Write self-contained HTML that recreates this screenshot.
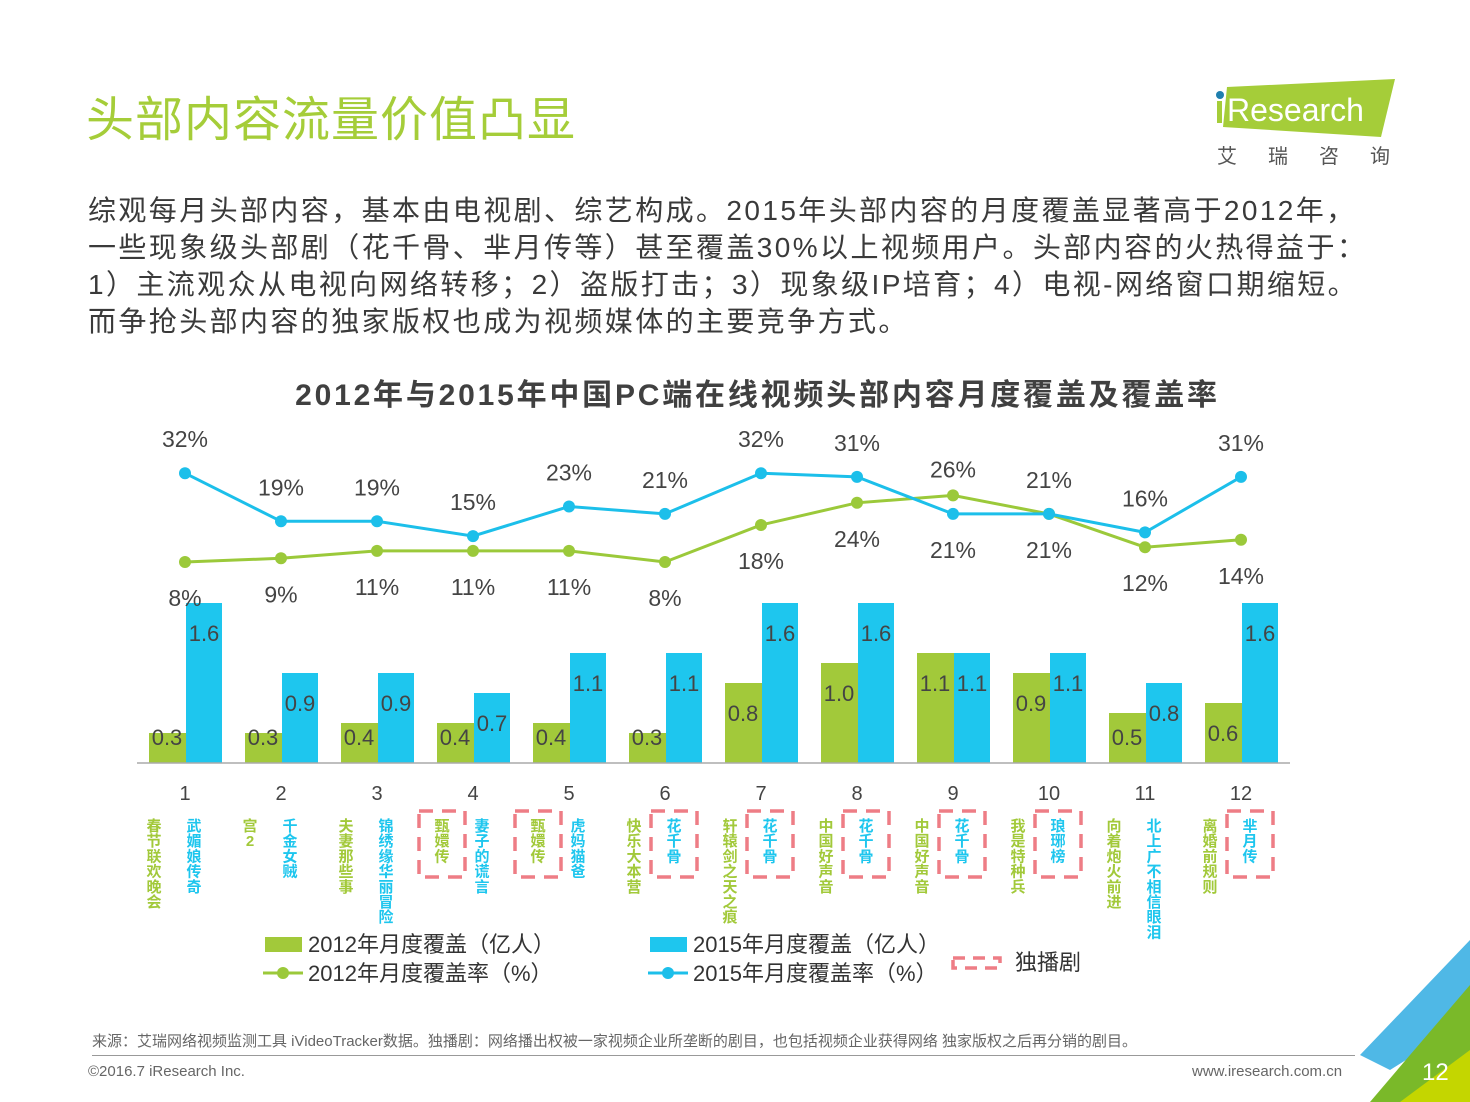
<!DOCTYPE html>
<html><head><meta charset="utf-8">
<style>
body{margin:0;width:1470px;height:1102px;background:#fff;overflow:hidden;position:relative;font-family:"Liberation Sans","Noto Sans CJK SC",sans-serif;}
.abs{position:absolute;}
#title{left:86px;top:80px;font-size:48px;color:#a5cd39;letter-spacing:1px;}
#para{left:88px;top:192px;font-size:28px;color:#3a3a3a;line-height:37px;letter-spacing:2.4px;white-space:nowrap;}
#ctitle{left:0;width:1515px;top:370px;text-align:center;font-size:30px;font-weight:bold;color:#404040;letter-spacing:2.8px;}
.foot{font-size:15px;color:#666;}
</style></head><body>
<div class="abs" id="title">头部内容流量价值凸显</div>
<div class="abs" id="para">综观每月头部内容，基本由电视剧、综艺构成。2015年头部内容的月度覆盖显著高于2012年，<br>一些现象级头部剧（花千骨、芈月传等）甚至覆盖30%以上视频用户。头部内容的火热得益于：<br>1）主流观众从电视向网络转移；2）盗版打击；3）现象级IP培育；4）电视-网络窗口期缩短。<br>而争抢头部内容的独家版权也成为视频媒体的主要竞争方式。</div>
<div class="abs" id="ctitle">2012年与2015年中国PC端在线视频头部内容月度覆盖及覆盖率</div>

<svg class="abs" style="left:1205px;top:75px" width="200" height="100">
<polygon points="22,12 190,4 176,62 18,52" fill="#a5cd39"/>
<rect x="12" y="26" width="5" height="22" fill="#a5cd39"/>
<circle cx="15" cy="20" r="4" fill="#1f7fae"/>
<text x="22" y="46" font-size="32" fill="#fff" font-family="Liberation Sans">Research</text>
<text x="12" y="88" font-size="20" fill="#555" font-family="Noto Sans CJK SC" letter-spacing="31">艾瑞咨询</text>
</svg>

<svg class="abs" style="left:0;top:0" width="1470" height="1102" id="chart"></svg>

<div class="abs foot" style="left:92px;top:1030px;">来源：艾瑞网络视频监测工具 iVideoTracker数据。独播剧：网络播出权被一家视频企业所垄断的剧目，也包括视频企业获得网络 独家版权之后再分销的剧目。</div>
<div class="abs" style="left:92px;top:1055px;width:1263px;height:1px;background:#999"></div>
<div class="abs foot" style="left:88px;top:1063px;">©2016.7 iResearch Inc.</div>
<div class="abs foot" style="left:1192px;top:1063px;">www.iresearch.com.cn</div>
<svg class="abs" style="left:1350px;top:940px" width="120" height="162">
<polygon points="120,0 120,80 40,130 10,115" fill="#4fb8e6"/>
<polygon points="120,45 120,162 20,162 60,115" fill="#7ab929"/>
<polygon points="120,110 120,162 50,162" fill="#c4d600"/>
<text x="72" y="140" font-size="24" fill="#fff" font-family="Liberation Sans">12</text>
</svg>

<script>
const categories=["1","2","3","4","5","6","7","8","9","10","11","12"];
const cover2012=[0.3,0.3,0.4,0.4,0.4,0.3,0.8,1.0,1.1,0.9,0.5,0.6];
const cover2015=[1.6,0.9,0.9,0.7,1.1,1.1,1.6,1.6,1.1,1.1,0.8,1.6];
const rate2012=[8,9,11,11,11,8,18,24,26,21,12,14];
const rate2015=[32,19,19,15,23,21,32,31,21,21,16,31];
const names2012=["春节联欢晚会","宫2","夫妻那些事","甄嬛传","甄嬛传","快乐大本营","轩辕剑之天之痕","中国好声音","中国好声音","我是特种兵","向着炮火前进","离婚前规则"];
const names2015=["武媚娘传奇","千金女贼","锦绣缘华丽冒险","妻子的谎言","虎妈猫爸","花千骨","花千骨","花千骨","花千骨","琅琊榜","北上广不相信眼泪","芈月传"];
const exclusive=["","","","2012","2012","2015","2015","2015","2015","2015","","2015"];

const G="#a2c93a",B="#1ec6ee",NS="http://www.w3.org/2000/svg";
const svg=document.getElementById('chart');
const xc=i=>185+i*96;
const yBar=v=>763-v*100;
const yRate=v=>591.6-v*3.7;
function el(t,a,p){const e=document.createElementNS(NS,t);for(const k in a)e.setAttribute(k,a[k]);(p||svg).appendChild(e);return e;}
function txt(x,y,s,a,p){const e=el('text',Object.assign({x:x,y:y,'font-family':'Liberation Sans, Noto Sans CJK SC, sans-serif'},a),p);e.textContent=s;return e;}

categories.forEach((c,i)=>{
  const x=xc(i);
  let r=el('rect',{x:x-36,y:yBar(cover2012[i]),width:37,height:cover2012[i]*100,fill:G});
  
  
  r=el('rect',{x:x+1,y:yBar(cover2015[i]),width:36,height:cover2015[i]*100,fill:B});
  
  
  let t=txt(x-18,Math.min(yBar(cover2012[i])+38,745),cover2012[i].toFixed(1),{'font-size':22,fill:'#444','text-anchor':'middle'});
  
  
  t=txt(x+19,Math.min(yBar(cover2015[i])+38,745),cover2015[i].toFixed(1),{'font-size':22,fill:'#444','text-anchor':'middle'});
  
  
  t=txt(x,800,c,{'font-size':20,fill:'#444','text-anchor':'middle'});
  
  
  [[names2012[i],G,x-31,'2012'],[names2015[i],B,x+9,'2015']].forEach(([n,col,nx,yr])=>{
    const g=el('g',{});
    
    
    [...n].forEach((ch,k)=>txt(nx,831+k*15.2,ch,{'font-size':15,'font-weight':'bold',fill:col,'text-anchor':'middle'},g));
    if(exclusive[i]===yr){
      const bx=el('rect',{x:nx-23,y:811,width:46,height:66,fill:'none',stroke:'#ee7d85','stroke-width':3.5,'stroke-dasharray':'14,9'});
      
      
    }
  });
});
const ax=el('line',{x1:137,y1:763,x2:1290,y2:763,stroke:'#aaa','stroke-width':1.5});



function line(vals,col,name){
  const p=el('polyline',{points:vals.map((v,i)=>xc(i)+','+yRate(v)).join(' '),fill:'none',stroke:col,'stroke-width':3});
  
  
  vals.forEach((v,i)=>{const d=el('circle',{cx:xc(i),cy:yRate(v),r:6,fill:col});
    
    });
}
line(rate2012,'#9bc93a','line-2012-rate');
line(rate2015,'#1cbfea','line-2015-rate');
categories.forEach((c,i)=>{
  const blueAbove=rate2015[i]>=rate2012[i];
  const yb=yRate(rate2015[i])+(blueAbove?-26:44);
  const yg=yRate(rate2012[i])+(blueAbove?44:-18);
  let t=txt(xc(i),yb,rate2015[i]+'%',{'font-size':23,fill:'#444','text-anchor':'middle'});
  
  
  t=txt(xc(i),yg,rate2012[i]+'%',{'font-size':23,fill:'#444','text-anchor':'middle'});
  
  
});
const lg=el('g',{});


el('rect',{x:265,y:937,width:37,height:15,fill:G},lg);
txt(308,952,'2012年月度覆盖（亿人）',{'font-size':22,fill:'#333'},lg);
el('line',{x1:263,y1:973,x2:303,y2:973,stroke:'#9bc93a','stroke-width':3},lg);
el('circle',{cx:283,cy:973,r:6,fill:'#9bc93a'},lg);
txt(308,981,'2012年月度覆盖率（%）',{'font-size':22,fill:'#333'},lg);
el('rect',{x:650,y:937,width:37,height:15,fill:B},lg);
txt(693,952,'2015年月度覆盖（亿人）',{'font-size':22,fill:'#333'},lg);
el('line',{x1:648,y1:973,x2:688,y2:973,stroke:'#1cbfea','stroke-width':3},lg);
el('circle',{cx:668,cy:973,r:6,fill:'#1cbfea'},lg);
txt(693,981,'2015年月度覆盖率（%）',{'font-size':22,fill:'#333'},lg);
el('rect',{x:953,y:958,width:47,height:10,fill:'none',stroke:'#ee7d85','stroke-width':3.5,'stroke-dasharray':'12,8'},lg);
txt(1015,970,'独播剧',{'font-size':22,fill:'#333'},lg);
</script>
</body></html>
